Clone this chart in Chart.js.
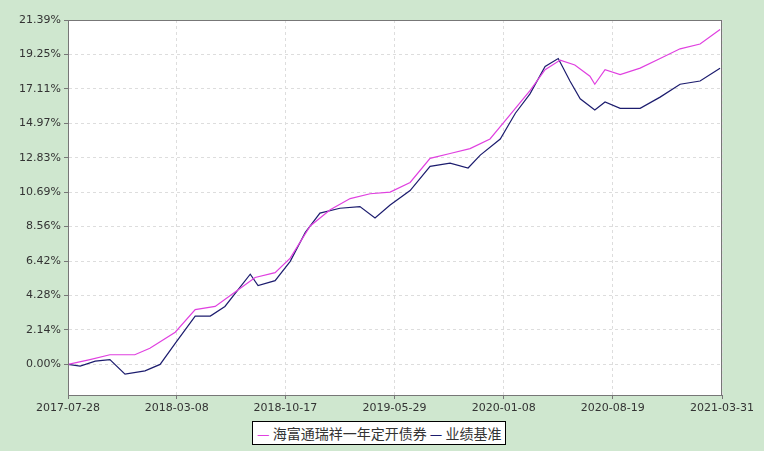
<!DOCTYPE html>
<html><head><meta charset="utf-8">
<script src="https://cdn.jsdelivr.net/npm/chart.js@4"></script>
<style>
html,body{margin:0;padding:0;background:#cfe7cf;}
#wrap{position:relative;width:764px;height:451px;}
#leg{position:absolute;left:252px;top:421px;height:22px;padding:0 4px;border:1px solid #000;background:#fff;font:14px "Noto Sans CJK SC";line-height:22px;color:#333;white-space:nowrap}
</style></head><body>
<div id="wrap"><canvas id="c" width="764" height="451"></canvas>
<div id="leg"><span style="color:#e040e0">—</span> 海富通瑞祥一年定开债券 <span style="color:#1c1c6e">—</span> 业绩基准</div></div>
<script>
const tickDays=[0,223,446,670,894,1118,1342];
const tickLabels=['2017-07-28','2018-03-08','2018-10-17','2019-05-29','2020-01-08','2020-08-19','2021-03-31'];
const yTicks=[0,2.14,4.28,6.42,8.56,10.69,12.83,14.97,17.11,19.25,21.39];
const fundDays=[0,45,86,137,168,220,261,302,343,384,425,456,497,538,579,620,661,702,743,784,825,866,907,948,979,1010,1040,1071,1081,1102,1133,1174,1215,1256,1297,1338];
const fundVals=[0,0.3,0.6,0.6,1.0,2.0,3.4,3.6,4.5,5.4,5.7,6.6,8.6,9.6,10.3,10.6,10.7,11.3,12.8,13.1,13.4,14.0,15.5,17.0,18.3,18.9,18.6,17.9,17.4,18.3,18.0,18.4,19.0,19.6,19.9,20.8];
const benchDays=[0,25,56,86,117,158,189,220,261,292,322,374,390,425,456,487,517,558,599,630,661,702,743,784,821,846,887,918,948,979,1006,1030,1051,1081,1102,1133,1174,1215,1256,1297,1338];
const benchVals=[0,-0.1,0.2,0.3,-0.6,-0.4,0.0,1.3,3.0,3.0,3.6,5.6,4.9,5.2,6.4,8.2,9.4,9.7,9.8,9.1,9.9,10.8,12.3,12.5,12.2,13.0,14.0,15.6,16.8,18.5,19.0,17.6,16.5,15.8,16.3,15.9,15.9,16.6,17.4,17.6,18.4];
const bg={id:'bg',beforeDraw(c){const a=c.chartArea,x=c.ctx;x.save();x.fillStyle='#fff';x.fillRect(a.left,a.top,a.right-a.left,a.bottom-a.top);x.restore();},
afterDraw(c){const a=c.chartArea,x=c.ctx;x.save();x.strokeStyle='#777';x.lineWidth=1;x.strokeRect(a.left+0.5,a.top+0.5,a.right-a.left-1,a.bottom-a.top);x.restore();}};
new Chart(document.getElementById('c'),{type:'line',
data:{datasets:[
{data:fundDays.map((d,i)=>({x:d,y:fundVals[i]})),borderColor:'#e040e0',borderWidth:1.2,pointRadius:0,tension:0},
{data:benchDays.map((d,i)=>({x:d,y:benchVals[i]})),borderColor:'#1c1c6e',borderWidth:1.2,pointRadius:0,tension:0}]},
options:{responsive:false,animation:false,layout:{padding:{top:20,right:42,left:0,bottom:0}},
plugins:{legend:{display:false},tooltip:{enabled:false}},
scales:{
x:{type:'linear',min:0,max:1342,afterBuildTicks(s){s.ticks=tickDays.map(v=>({value:v}));},
afterFit(s){s.height=56;},
ticks:{autoSkip:false,maxRotation:0,color:'#333',font:{family:'DejaVu Sans',size:11},callback:(v)=>tickLabels[tickDays.indexOf(v)]},
grid:{color:'#ddd',borderDash:[3,3],tickLength:4,tickColor:'#777'},border:{color:'#777',dash:[3,3]}},
y:{min:-1.9,max:21.39,afterBuildTicks(s){s.ticks=yTicks.map(v=>({value:v}));},
afterFit(s){s.width=68;},
ticks:{color:'#333',font:{family:'DejaVu Sans',size:11},callback:v=>v.toFixed(2)+'%'},
grid:{color:'#ddd',tickLength:4,tickColor:'#777'},border:{color:'#777',dash:[3,3]}}}},
plugins:[bg]});
</script></body></html>
